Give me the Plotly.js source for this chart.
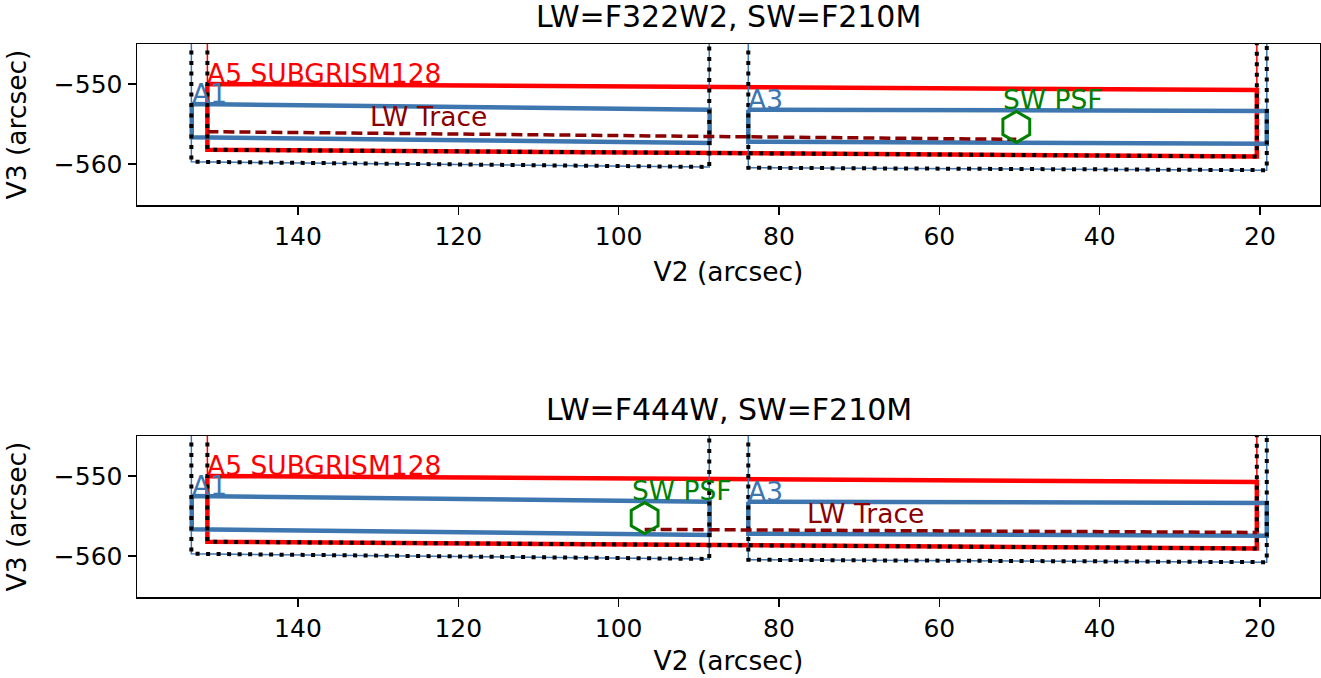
<!DOCTYPE html>
<html><head><meta charset="utf-8">
<script src="https://cdn.plot.ly/plotly-3.0.1.min.js"></script>
<style>html,body{margin:0;padding:0;background:#fff;} #chart{width:1321px;height:678px;}</style>
</head><body><div id="chart"></div>
<script>
// ---------- data (V2, V3 in arcsec) ----------
const panelTitles = ["LW=F322W2, SW=F210M", "LW=F444W, SW=F210M"];
const a5SubV2 = [151.3, 20.4, 20.4, 151.3, 151.3];
const a5SubV3 = [-550.0, -550.75, -559.05, -558.2, -550.0];
const a5FullV2 = [151.3, 151.3, 20.4, 20.4, 151.3];
const a5FullV3 = [-496, -558.2, -559.05, -496, -496];
const a1SubV2 = [153.25, 88.65, 88.65, 153.25, 153.25];
const a1SubV3 = [-552.5, -553.2, -557.35, -556.65, -552.5];
const a1FullV2 = [153.3, 153.3, 88.7, 88.7, 153.3];
const a1FullV3 = [-496, -559.7, -560.35, -496, -496];
const a3SubV2 = [83.83, 19.16, 19.16, 83.83, 83.83];
const a3SubV3 = [-553.2, -553.35, -557.45, -557.2, -553.2];
const a3FullV2 = [83.83, 83.83, 19.16, 19.16, 83.83];
const a3FullV3 = [-496, -560.45, -560.75, -496, -496];
const traceV2 = [[151.3, 50.4], [96.76, 20.4]];
const traceV3 = [[-555.95, -556.9], [-556.66, -557.04]];
const psfV2 = [50.4, 96.76];
const psfV3 = [-555.35, -555.25];
const apLabels = ["A5 SUBGRISM128", "A1", "A3"];
const xTicks = [140, 120, 100, 80, 60, 40, 20];
const yTicks = [-550, -560];

// ---------- styles ----------
const RED = '#ff0000', BLUE = '#3e76b0', DARKRED = '#8b0000', GREEN = '#008000';
const FONT = 'DejaVu Sans, sans-serif';
const FS = 25, FL = 26.5;

const data = [];
const annotations = [];
for (let p = 0; p < 2; p++) {
  const xa = p === 0 ? 'x' : 'x2', ya = p === 0 ? 'y' : 'y2';
  const line = (x, y, color, width, dash) => data.push({
    type: 'scatter', mode: 'lines', x: x, y: y, xaxis: xa, yaxis: ya,
    line: {color: color, width: width, dash: dash || 'solid'}, showlegend: false, hoverinfo: 'skip'
  });
  line(a5FullV2, a5FullV3, RED, 1.5);
  line(a5SubV2, a5SubV3, RED, 4.5);
  line(a1FullV2, a1FullV3, BLUE, 1.5);
  line(a3FullV2, a3FullV3, BLUE, 1.5);
  line(a1SubV2, a1SubV3, BLUE, 4.5);
  line(a3SubV2, a3SubV3, BLUE, 4.5);
  line(a5FullV2, a5FullV3, '#000', 4, '4px,6.5px');
  line(a1FullV2, a1FullV3, '#000', 4, '4px,6.5px');
  line(a3FullV2, a3FullV3, '#000', 4, '4px,6.5px');
  line(traceV2[p], traceV3[p], DARKRED, 3.5, '11px,5px');
  data.push({type: 'scatter', mode: 'markers', x: [psfV2[p]], y: [psfV3[p]], xaxis: xa, yaxis: ya,
    marker: {symbol: 'hexagon-open', size: 31, color: GREEN, line: {color: GREEN, width: 3}},
    showlegend: false, hoverinfo: 'skip'});

  const txt = (x, y, s, color) => annotations.push({
    xref: xa, yref: ya, x: x, y: y, text: s, showarrow: false, xanchor: 'left', yanchor: 'bottom',
    yshift: -7, xshift: -2, font: {family: FONT, size: FL, color: color}
  });
  txt(a5SubV2[0], a5SubV3[0], apLabels[0], RED);
  txt(a1SubV2[0], a1SubV3[0], apLabels[1], BLUE);
  txt(a3SubV2[0], a3SubV3[0], apLabels[2], BLUE);
  txt(psfV2[p] + 1.6, psfV3[p] + 2.1, 'SW PSF', GREEN);
  txt(Math.max(...traceV2[p]) - 20.3, traceV3[p][0] + 0.65, 'LW Trace', DARKRED);
}

const H = 678, T = 44, B = 81;
const plotH = H - T - B;
const frac = py => (H - B - py) / plotH;
annotations.push({xref: 'paper', yref: 'paper', x: 0.5, y: frac(17), text: panelTitles[0], showarrow: false,
  xanchor: 'center', yanchor: 'middle', font: {family: FONT, size: 30, color: '#000'}});
annotations.push({xref: 'paper', yref: 'paper', x: 0.5, y: frac(409), text: panelTitles[1], showarrow: false,
  xanchor: 'center', yanchor: 'middle', font: {family: FONT, size: 30, color: '#000'}});

const axBase = {
  showline: true, mirror: true, linecolor: '#000', linewidth: 1.5, showgrid: false, zeroline: false,
  ticks: 'outside', ticklen: 8, tickwidth: 1.5, tickcolor: '#000',
  tickfont: {family: FONT, size: FS, color: '#000'}
};
const xAx = (anchor, so) => Object.assign({}, axBase, {
  anchor: anchor, domain: [0, 1], range: [160.08, 12.52], tickmode: 'array', tickvals: xTicks,
  ticktext: xTicks.map(String),
  title: {text: 'V2 (arcsec)', standoff: so, font: {family: FONT, size: FL, color: '#000'}}
});
const yAx = (anchor, dom) => Object.assign({}, axBase, {
  anchor: anchor, domain: dom, range: [-565.1, -545], tickmode: 'array', tickvals: yTicks,
  title: {text: 'V3 (arcsec)', standoff: 19, font: {family: FONT, size: FL, color: '#000'}}
});

const layout = {
  width: 1321, height: 678,
  margin: {l: 137, r: 1, t: T, b: B, pad: 0},
  paper_bgcolor: '#fff', plot_bgcolor: '#fff',
  font: {family: FONT, size: FS, color: '#000'},
  showlegend: false,
  xaxis: xAx('y', 13),
  yaxis: yAx('x', [frac(205), 1]),
  xaxis2: xAx('y2', 10),
  yaxis2: yAx('x2', [0, frac(436)]),
  annotations: annotations
};
Plotly.newPlot('chart', data, layout, {staticPlot: true});
</script></body></html>
